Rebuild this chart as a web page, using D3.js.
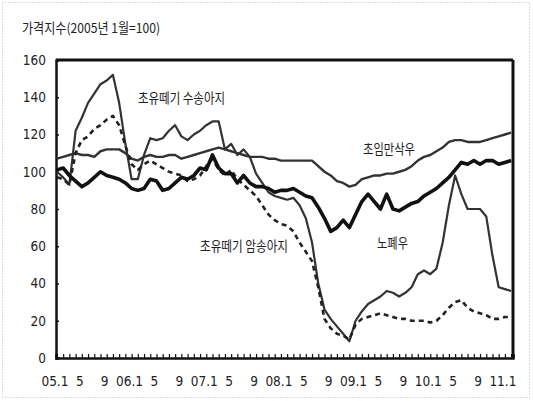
<!DOCTYPE html>
<html>
<head>
<meta charset="utf-8">
<script src="https://cdn.jsdelivr.net/npm/d3@7"></script>
<style>
  body { margin: 0; background: #fff; }
  svg { display: block; }
</style>
</head>
<body>
<div id="chart"></div>
<script>
// month index 0 = 2005.1 ... 73 = 2011.2
var tickLabels = ["05.1","5","9","06.1","5","9","07.1","5","9","08.1","5","9","09.1","5","9","10.1","5","9","11.1"];
var yTicks = [0, 20, 40, 60, 80, 100, 120, 140, 160];

// 초유떼기 수송아지
var maleCalf = [100,97,93,122,129,137,142,147,149,152,137,115,96,96,109,118,117,118,122,125,
  119,117,120,122,125,127,127,112,115,109,112,108,99,94,89,87,86,85,86,82,
  75,62,40,26,21,17,13,9,20,25,29,31,33,36,35,33,35,38,45,47,
  45,48,62,82,98,88,80,80,80,76,55,38,37,36];
// 초유떼기 암송아지
var femaleCalf = [97,96,93,110,117,119,123,125,128,130,125,114,104,101,104,106,104,102,100,99,
  98,95,96,98,103,107,101,98,101,96,93,90,87,82,77,74,72,71,68,62,
  57,52,38,21,16,13,12,10,18,21,22,23,24,23,22,21,21,20,20,20,
  19,20,23,27,30,31,27,25,24,23,21,21,22,22];
// 초임만삭우
var pregnantCow = [107,108,109,110,109,109,108,111,112,112,112,110,107,106,108,109,108,108,109,109,
  107,108,109,110,111,112,113,112,111,110,109,108,108,108,107,107,106,106,106,106,
  106,106,103,100,98,95,94,92,93,96,97,98,98,99,99,100,101,103,106,108,
  109,111,113,116,117,117,116,116,116,117,118,119,120,121];
// 노폐우
var oldCow = [101,102,98,95,92,94,97,100,98,97,96,94,91,90,91,96,95,90,91,94,
  97,96,98,102,101,109,102,99,99,94,98,94,92,92,91,89,90,90,91,89,
  87,86,81,75,68,70,74,70,77,84,88,84,80,88,80,79,81,83,84,87,
  89,91,94,97,101,105,104,106,104,106,106,104,105,106];

var W = 533, H = 401;
var margin = { top: 60, right: 20, bottom: 43, left: 56 };
var width = W - margin.left - margin.right,
    height = H - margin.top - margin.bottom;

var numFont = '"Liberation Sans Narrow", "DejaVu Sans Condensed", sans-serif';
var krFont = '"Noto Sans CJK KR", sans-serif';

var svg = d3.select("#chart")
  .append("svg")
  .attr("width", W)
  .attr("height", H);

// dotted outer frame
svg.append("rect")
  .attr("x", 2.5).attr("y", 2.5)
  .attr("width", W - 6).attr("height", H - 6)
  .attr("fill", "none")
  .attr("stroke", "#bbb")
  .attr("stroke-width", 1)
  .attr("stroke-dasharray", "1,2");

// title
svg.append("text")
  .attr("x", 22).attr("y", 33)
  .attr("textLength", 138)
  .attr("lengthAdjust", "spacingAndGlyphs")
  .style("font-family", krFont)
  .style("font-size", "13.5px")
  .attr("fill", "#222")
  .text("가격지수(2005년 1월=100)");

var g = svg.append("g")
  .attr("transform", "translate(" + margin.left + "," + margin.top + ")");

var months = d3.range(maleCalf.length);

var x = d3.scaleLinear()
  .domain([-0.15, 73.3])
  .range([0, width]);

var y = d3.scaleLinear()
  .domain([0, 160])
  .range([height, 0]);

// frame: top and right
g.append("line")
  .attr("x1", 0).attr("x2", width)
  .attr("y1", 0).attr("y2", 0)
  .attr("stroke", "#111").attr("stroke-width", 3);
g.append("line")
  .attr("x1", width).attr("x2", width)
  .attr("y1", 0).attr("y2", height)
  .attr("stroke", "#111").attr("stroke-width", 3);

// Y axis
var yAxis = g.append("g")
  .call(d3.axisLeft(y).tickValues(yTicks).tickSize(-3).tickPadding(10));
yAxis.select(".domain").attr("stroke", "#111").attr("stroke-width", 2.5);
yAxis.selectAll(".tick line").attr("stroke", "#111").attr("stroke-width", 1.5);
yAxis.selectAll("text")
  .style("font-family", numFont)
  .style("font-size", "13.5px")
  .attr("fill", "#222");

// X axis: small ticks every month, labels every four months
var xAxis = g.append("g")
  .attr("transform", "translate(0," + height + ")")
  .call(d3.axisBottom(x).tickValues(months).tickSize(-4).tickFormat(""));
xAxis.select(".domain").attr("stroke", "#111").attr("stroke-width", 2.5);
xAxis.selectAll(".tick line").attr("stroke", "#111").attr("stroke-width", 1.2);

g.append("g")
  .selectAll("text")
  .data(tickLabels)
  .enter()
  .append("text")
    .attr("x", function(d, i) { return x(i * 4) - 2; })
    .attr("y", height + 28)
    .attr("text-anchor", "middle")
    .style("font-family", numFont)
    .style("font-size", "13.5px")
    .attr("fill", "#222")
    .text(function(d) { return d; });

var line = d3.line()
  .x(function(d, i) { return x(i); })
  .y(function(d) { return y(d); });

var series = [
  { values: pregnantCow, width: 2.4, dash: null, color: "#333" },
  { values: maleCalf, width: 2.2, dash: null, color: "#333" },
  { values: femaleCalf, width: 2.6, dash: "5,4", color: "#222" },
  { values: oldCow, width: 3.6, dash: null, color: "#111" }
];

g.selectAll(".series")
  .data(series)
  .enter()
  .append("path")
    .attr("class", "series")
    .attr("d", function(d) { return line(d.values); })
    .attr("fill", "none")
    .attr("stroke", function(d) { return d.color; })
    .attr("stroke-width", function(d) { return d.width; })
    .attr("stroke-dasharray", function(d) { return d.dash; })
    .attr("stroke-linejoin", "round");

// series labels
var labels = [
  { text: "초유떼기 수송아지", x: 138, y: 103, len: 87 },
  { text: "초임만삭우", x: 363, y: 154, len: 52 },
  { text: "초유떼기 암송아지", x: 200, y: 251, len: 88 },
  { text: "노폐우", x: 377, y: 248, len: 31 }
];

svg.selectAll(".lbl")
  .data(labels)
  .enter()
  .append("text")
    .attr("class", "lbl")
    .attr("x", function(d) { return d.x; })
    .attr("y", function(d) { return d.y; })
    .attr("textLength", function(d) { return d.len; })
    .attr("lengthAdjust", "spacingAndGlyphs")
    .style("font-family", krFont)
    .style("font-size", "13.5px")
    .attr("fill", "#222")
    .text(function(d) { return d.text; });
</script>
</body>
</html>
